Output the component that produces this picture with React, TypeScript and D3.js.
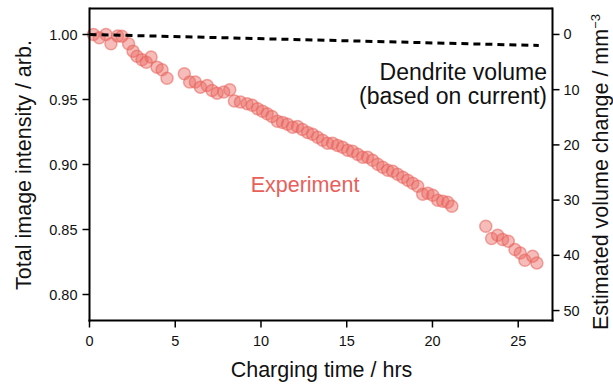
import React from "react";
import * as d3 from "d3";

const W = 613;
const H = 385;

// Experiment: [time (hrs), normalized intensity]
const experimentTime = [
  0.23, 0.57, 0.96, 1.25, 1.64, 1.89, 2.28, 2.54, 2.77, 3.06, 3.31, 3.59, 3.94, 4.23, 4.52,
  5.53, 5.84, 6.17, 6.47, 6.86, 7.15, 7.44, 7.83, 8.18, 8.45, 8.8, 9.19, 9.49, 9.8, 10.09,
  10.36, 10.64, 10.96, 11.26, 11.55, 11.84, 12.13, 12.42, 12.72, 13.01, 13.3, 13.59, 13.88,
  14.18, 14.47, 14.76, 15.05, 15.34, 15.64, 15.93, 16.22, 16.51, 16.81, 17.1, 17.39, 17.68,
  17.97, 18.27, 18.56, 18.85, 19.14, 19.43, 19.73, 20.02, 20.31, 20.6, 20.89, 21.13,
  23.11, 23.45, 23.8, 24.09, 24.42, 24.81, 25.12, 25.39, 25.84, 26.09,
];
const experimentIntensity = [
  1.0, 0.9975, 1.0, 0.9929, 0.9988, 0.9987, 0.9929, 0.9872, 0.9833, 0.9806, 0.9787, 0.9826, 0.9749, 0.9729, 0.9664,
  0.9698, 0.9634, 0.9634, 0.9595, 0.9608, 0.957, 0.9549, 0.9557, 0.9575, 0.9488, 0.948, 0.9468, 0.9455, 0.9429, 0.9409,
  0.9391, 0.937, 0.9332, 0.9324, 0.9309, 0.9286, 0.9293, 0.927, 0.9247, 0.9232, 0.9209, 0.9186, 0.9163,
  0.9163, 0.9147, 0.9132, 0.9109, 0.9101, 0.9078, 0.9055, 0.9055, 0.9032, 0.9002, 0.8979, 0.8955, 0.8948,
  0.8925, 0.8902, 0.8879, 0.8856, 0.8833, 0.8771, 0.8779, 0.8763, 0.8725, 0.8717, 0.871, 0.8679,
  0.8525, 0.8431, 0.8456, 0.8423, 0.841, 0.8346, 0.832, 0.8264, 0.8295, 0.8243,
];

// Dendrite volume based on current: [time (hrs), volume (mm^-3)]
const dendriteTime = [0, 26.2];
const dendriteVolume = [0, 2.0];

const xTicks = [0, 5, 10, 15, 20, 25];
const yLeftTicks = [0.8, 0.85, 0.9, 0.95, 1.0];
const yRightTicks = [0, 10, 20, 30, 40, 50];

const FONT = "'Liberation Sans', Arial, Helvetica, sans-serif";
const RED = "#e8605a";

export default function App() {
  const left = 89.5;
  const right = 552.5;
  const top = 8.5;
  const bottom = 320.5;

  const x = d3.scaleLinear().domain([0, 27]).range([left, right]);
  const yL = d3.scaleLinear().domain([0.78, 1.02]).range([bottom, top]);
  const yR = d3.scaleLinear().domain([51.8, -4.7]).range([bottom, top]);

  const pts = experimentTime.map((t, i) => [t, experimentIntensity[i]] as [number, number]);
  const dline = d3
    .line<number>()
    .x((_, i) => x(dendriteTime[i]))
    .y((v) => yR(v))(dendriteVolume);

  const tickLen = 7;
  const tickFont = 14.5;
  const titleFont = 21.5;

  return (
    <svg
      width={W}
      height={H}
      style={{ position: "fixed", left: 0, top: 0, background: "#fff" }}
      fontFamily={FONT}
    >
      {/* points */}
      <g>
        {pts.map(([t, v], i) => (
          <circle
            key={i}
            cx={x(t)}
            cy={yL(v)}
            r={6}
            fill="#ec6a64"
            fillOpacity={0.45}
            stroke={RED}
            strokeOpacity={0.55}
            strokeWidth={1.5}
          />
        ))}
      </g>
      {/* dendrite line */}
      <path d={dline || ""} fill="none" stroke="#000" strokeWidth={3} strokeDasharray="7,5" />

      {/* frame */}
      <line x1={left} x2={right} y1={top} y2={top} stroke="#000" strokeWidth={2} />
      <line x1={left} x2={left} y1={top - 1} y2={bottom + 1} stroke="#000" strokeWidth={2} />
      <line x1={right} x2={right} y1={top - 1} y2={bottom + 1} stroke="#000" strokeWidth={2} />
      <line x1={left - 1} x2={right + 1} y1={bottom} y2={bottom} stroke="#000" strokeWidth={2} />

      {/* x axis */}
      {xTicks.map((t) => (
        <g key={t}>
          <line x1={x(t)} x2={x(t)} y1={bottom} y2={bottom + tickLen} stroke="#000" strokeWidth={1.5} />
          <text x={x(t)} y={bottom + 25} textAnchor="middle" fontSize={tickFont} fill="#111">
            {t}
          </text>
        </g>
      ))}
      <text x={321.5} y={376.5} textAnchor="middle" fontSize={titleFont} fill="#111">
        Charging time / hrs
      </text>

      {/* left axis */}
      {yLeftTicks.map((v) => (
        <g key={v}>
          <line x1={left - tickLen} x2={left} y1={yL(v)} y2={yL(v)} stroke="#000" strokeWidth={1.5} />
          <text x={left - 12} y={yL(v) + 5} textAnchor="end" fontSize={tickFont} fill="#111">
            {v.toFixed(2)}
          </text>
        </g>
      ))}
      <text
        transform={`translate(31,165) rotate(-90)`}
        textAnchor="middle"
        fontSize={titleFont}
        fill="#111"
      >
        Total image intensity / arb.
      </text>

      {/* right axis */}
      {yRightTicks.map((v) => (
        <g key={v}>
          <line x1={right} x2={right + tickLen} y1={yR(v)} y2={yR(v)} stroke="#000" strokeWidth={1.5} />
          <text x={right + 11} y={yR(v) + 5} textAnchor="start" fontSize={tickFont} fill="#111">
            {v}
          </text>
        </g>
      ))}
      <text
        transform={`translate(608,172) rotate(-90)`}
        textAnchor="middle"
        fontSize={titleFont}
        fill="#111"
      >
        Estimated volume change / mm
        <tspan dy={-8} fontSize={13}>−3</tspan>
      </text>

      {/* annotations */}
      <text x={547} y={80} textAnchor="end" fontSize={23} fill="#111">
        Dendrite volume
      </text>
      <text x={547} y={104} textAnchor="end" fontSize={23} fill="#111">
        (based on current)
      </text>
      <text x={305} y={192} textAnchor="middle" fontSize={21.5} fill={RED}>
        Experiment
      </text>
    </svg>
  );
}
